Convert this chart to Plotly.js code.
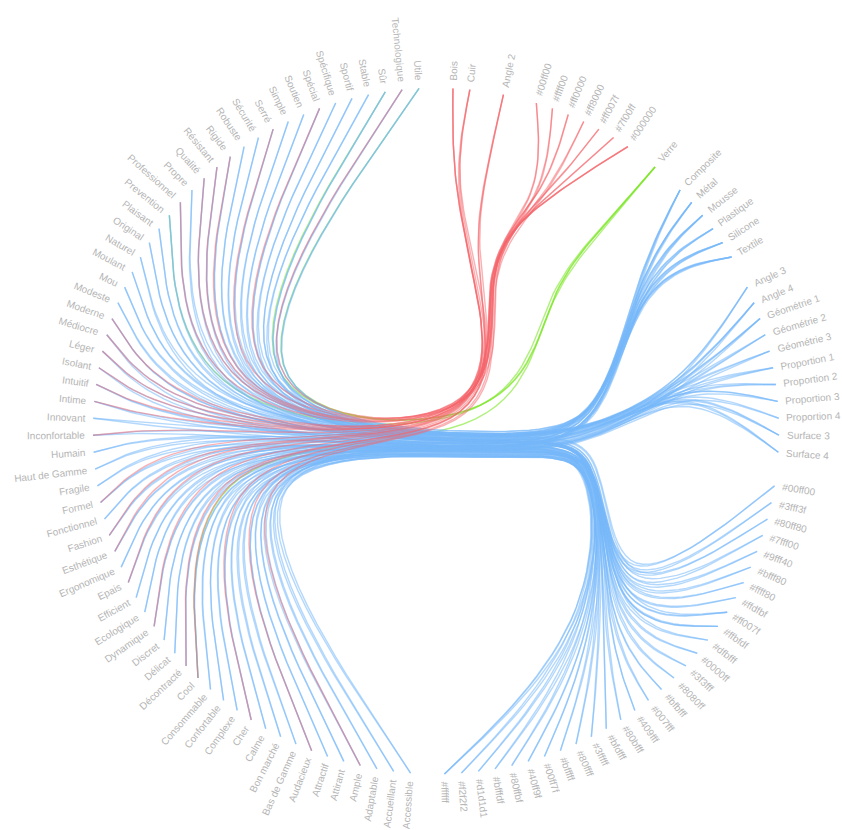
<!DOCTYPE html>
<html><head><meta charset="utf-8">
<script src="https://cdn.plot.ly/plotly-3.0.1.min.js"></script>
<style>body{margin:0;background:#fff}#chart{width:842px;height:830px}</style>
</head><body><div id="chart"></div>
<script>
// ---------- DATA ----------
const adjectives = ["Accessible","Accueillant","Adaptable","Ample","Attirant","Attractif","Audacieux","Bas de Gamme","Bon marché","Calme","Cher","Complexe","Confortable","Consommable","Cool","Décontracté","Délicat","Discret","Dynamique","Ecologique","Efficient","Epais","Ergonomique","Esthétique","Fashion","Fonctionnel","Formel","Fragile","Haut de Gamme","Humain","Inconfortable","Innovant","Intime","Intuitif","Isolant","Léger","Médiocre","Moderne","Modeste","Mou","Moulant","Naturel","Original","Plaisant","Prevention","Professionnel","Propre","Qualité","Résistant","Rigide","Robuste","Sécurité","Serré","Simple","Soutien","Spécial","Spécifique","Sportif","Stable","Sûr","Technologique","Utile"];
const matA = ["Bois","Cuir"];
const geoA = ["Angle 2"];
const colA = ["#00ff00","#ffff00","#ff0000","#ff8000","#ff007f","#7f00ff","#000000"];
const matB = ["Verre"];
const matC = ["Composite","Métal","Mousse","Plastique","Silicone","Textile"];
const geoC = ["Angle 3","Angle 4","Géométrie 1","Géométrie 2","Géométrie 3","Proportion 1","Proportion 2","Proportion 3","Proportion 4","Surface 3","Surface 4"];
const colC = ["#00ff00","#3fff3f","#80ff80","#7fff00","#9fff40","#bfff80","#ffff80","#ffdfbf","#ff007f","#ffbfdf","#dfbfff","#0000ff","#3f3fff","#8080ff","#bfbfff","#007fff","#409fff","#80bfff","#bfdfff","#3fffff","#80ffff","#bfffff","#00ff7f","#40ff9f","#80ffbf","#bfffdf","#d1d1d1","#f2f2f2","#ffffff"];

const linksMatA = [["Esthétique","Bois"],["Intime","Bois"],["Médiocre","Bois"],["Cher","Cuir"],["Formel","Cuir"],["Serré","Cuir"]];
const linksGeoA = [["Epais","Angle 2"],["Rigide","Angle 2"],["Moderne","Angle 2"]];
const linksColA = [["Dynamique","#00ff00"],["Fashion","#00ff00"],["Cool","#ffff00"],["Audacieux","#ffff00"],["Intuitif","#ff0000"],["Spécial","#ff0000"],["Décontracté","#ff8000"],["Ample","#ff8000"],["Inconfortable","#ff007f"],["Léger","#ff007f"],["Isolant","#7f00ff"],["Technologique","#7f00ff"],["Professionnel","#000000"],["Qualité","#000000"],["Résistant","#000000"]];
const linksMatB = [["Prevention","Verre"],["Sûr","Verre"],["Utile","Verre"],["Cool","Verre"]];
const linksMatC = [["Attractif","Composite"],["Ecologique","Composite"],["Innovant","Composite"],["Naturel","Composite"],["Technologique","Composite"],
["Cher","Métal"],["Haut de Gamme","Métal"],["Léger","Métal"],["Qualité","Métal"],["Utile","Métal"],
["Accueillant","Mousse"],["Confortable","Mousse"],["Epais","Mousse"],["Isolant","Mousse"],["Mou","Mousse"],
["Bas de Gamme","Plastique"],["Consommable","Plastique"],["Inconfortable","Plastique"],["Médiocre","Plastique"],
["Calme","Silicone"],["Délicat","Silicone"],["Fragile","Silicone"],["Plaisant","Silicone"],["Propre","Silicone"],
["Décontracté","Textile"],["Fashion","Textile"],["Intime","Textile"],["Moulant","Textile"],["Serré","Textile"]];
const linksGeoC = [["Dynamique","Angle 3"],["Prevention","Angle 3"],["Spécial","Angle 3"],
["Attirant","Angle 4"],["Formel","Angle 4"],["Rigide","Angle 4"],["Stable","Angle 4"],
["Adaptable","Géométrie 1"],["Fonctionnel","Géométrie 1"],["Professionnel","Géométrie 1"],["Utile","Géométrie 1"],
["Complexe","Géométrie 2"],["Efficient","Géométrie 2"],["Spécifique","Géométrie 2"],
["Audacieux","Géométrie 3"],["Intuitif","Géométrie 3"],["Robuste","Géométrie 3"],
["Accessible","Proportion 1"],["Esthétique","Proportion 1"],["Simple","Proportion 1"],
["Discret","Proportion 2"],["Humain","Proportion 2"],["Soutien","Proportion 2"],
["Ergonomique","Proportion 3"],["Sécurité","Proportion 3"],["Sûr","Proportion 3"],
["Bon marché","Proportion 4"],["Modeste","Proportion 4"],
["Ample","Surface 3"],["Moderne","Surface 3"],["Résistant","Surface 3"],
["Cool","Surface 4"],["Original","Surface 4"],["Sportif","Surface 4"]];
const linksColC = [["Moderne","#00ff00"],["Sûr","#00ff00"],["Dynamique","#3fff3f"],["Moulant","#3fff3f"],
["Intuitif","#80ff80"],["Sportif","#80ff80"],["Audacieux","#7fff00"],["Rigide","#7fff00"],
["Cool","#9fff40"],["Original","#9fff40"],["Décontracté","#bfff80"],["Mou","#bfff80"],
["Haut de Gamme","#ffff80"],["Plaisant","#ffff80"],["Confortable","#ffdfbf"],["Humain","#ffdfbf"],
["Attirant","#ff007f"],["Fashion","#ff007f"],["Spécial","#ff007f"],
["Attractif","#ffbfdf"],["Délicat","#ffbfdf"],["Intime","#ffbfdf"],
["Esthétique","#dfbfff"],["Robuste","#dfbfff"],["Fonctionnel","#0000ff"],["Prevention","#0000ff"],
["Cher","#3f3fff"],["Professionnel","#3f3fff"],["Epais","#8080ff"],["Résistant","#8080ff"],
["Discret","#bfbfff"],["Modeste","#bfbfff"],["Efficient","#007fff"],["Sécurité","#007fff"],
["Adaptable","#409fff"],["Qualité","#409fff"],["Ergonomique","#80bfff"],["Soutien","#80bfff"],
["Complexe","#bfdfff"],["Serré","#bfdfff"],["Innovant","#3fffff"],["Simple","#3fffff"],
["Calme","#80ffff"],["Léger","#80ffff"],["Fragile","#bfffff"],["Technologique","#bfffff"],
["Ecologique","#00ff7f"],["Spécifique","#00ff7f"],["Consommable","#40ff9f"],["Stable","#40ff9f"],
["Bon marché","#80ffbf"],["Naturel","#80ffbf"],["Accueillant","#bfffdf"],["Médiocre","#bfffdf"],
["Bas de Gamme","#d1d1d1"],["Inconfortable","#d1d1d1"],["Ample","#f2f2f2"],["Isolant","#f2f2f2"],
["Accessible","#ffffff"],["Formel","#ffffff"],["Propre","#ffffff"]];

// ---------- HIERARCHY (root -> top -> colour groups -> type groups -> leaves) ----------
const BETA = 0.96;
function grp(id, names){ return {id, children: names.map(n => ({id:n, name:n}))}; }
const root = {id:'root', children:[{id:'top', children:[
  {id:'A', children:[grp('matA',matA), grp('geoA',geoA), grp('colA',colA)]},
  {id:'B', children:[grp('matB',matB)]},
  {id:'C', children:[grp('matC',matC), grp('geoC',geoC), grp('colC',colC)]},
  grp('adj', adjectives)
]}]};

// d3.cluster-style layout
const leaves = [], byId = {};
(function setup(n, parent){
  n.parent = parent; byId[n.id] = byId[n.id] || n;
  if (n.children) n.children.forEach(c => setup(c, n)); else leaves.push(n);
})(root, null);
let xc = 0, prev = null;
leaves.forEach(l => { if (prev) xc += (prev.parent === l.parent ? 1 : 2); l.x = xc; prev = l; });
(function post(n){
  if (n.children){ n.children.forEach(post);
    n.x = n.children.reduce((s,c)=>s+c.x,0)/n.children.length;
    n.h = 1 + Math.max(...n.children.map(c=>c.h)); }
  else n.h = 0;
})(root);
const first = leaves[0], last = leaves[leaves.length-1];
const sepFL = first.parent === last.parent ? 1 : 2;
const X0 = first.x - sepFL/2, X1 = last.x + sepFL/2;
(function fin(n){
  n.angle = (n.x - X0)/(X1 - X0)*360;
  n.r = 1 - n.h/root.h;
  if (n.children) n.children.forEach(fin);
})(root);

function pol(angle, r){ const a = angle*Math.PI/180; return [r*Math.sin(a), r*Math.cos(a)]; }
function ancestors(n){ const a=[]; while(n){ a.push(n); n=n.parent; } return a; }
function pathNodes(s, t){
  const as = ancestors(s), at = ancestors(t);
  const lca = as.find(n => at.includes(n));
  const up = as.slice(0, as.indexOf(lca)+1), down = at.slice(0, at.indexOf(lca)).reverse();
  return up.concat(down);
}
function bundlePath(pts){
  const n = pts.length-1, p0 = pts[0], pn = pts[n];
  const bp = pts.map((p,i)=>{ const t=i/n; return [BETA*p[0]+(1-BETA)*(p0[0]+t*(pn[0]-p0[0])), BETA*p[1]+(1-BETA)*(p0[1]+t*(pn[1]-p0[1]))]; });
  const out = []; let x0,y0,x1,y1,k=0; const N=14;
  function bez(x,y){
    const s = out[out.length-1];
    const c1=[(2*x0+x1)/3,(2*y0+y1)/3], c2=[(x0+2*x1)/3,(y0+2*y1)/3], e=[(x0+4*x1+x)/6,(y0+4*y1+y)/6];
    for (let i=1;i<=N;i++){ const u=i/N, v=1-u;
      out.push([v*v*v*s[0]+3*v*v*u*c1[0]+3*v*u*u*c2[0]+u*u*u*e[0], v*v*v*s[1]+3*v*v*u*c1[1]+3*v*u*u*c2[1]+u*u*u*e[1]]); }
  }
  bp.forEach(([x,y])=>{
    if (k===0){ out.push([x,y]); k=1; }
    else if (k===1){ k=2; }
    else { if (k===2){ k=3; out.push([(5*x0+x1)/6,(5*y0+y1)/6]); } bez(x,y); }
    x0=x1; y0=y1; x1=x; y1=y;
  });
  if (k===3){ bez(x1,y1); out.push([x1,y1]); } else if (k===2){ out.push([x1,y1]); }
  return out;
}
function findLeaf(gid, name){ return byId[gid].children.find(c => c.name === name); }
function edgeTrace(adjName, gid, target, color){
  const s = findLeaf('adj', adjName), t = findLeaf(gid, target);
  const pts = pathNodes(s, t).map(n => pol(n.angle, n.r));
  const path = bundlePath(pts);
  return {type:'scatter', mode:'lines', x:path.map(p=>p[0]), y:path.map(p=>p[1]),
    line:{color, width:1.4}, hoverinfo:'skip', showlegend:false};
}
const BLUE='rgba(118,184,250,0.55)', RED='rgba(245,100,105,0.5)', GREEN='rgba(125,230,40,0.6)';
const traces = [];
linksMatB.forEach(l=>traces.push(edgeTrace(l[0],'matB',l[1],GREEN)));
linksMatC.forEach(l=>traces.push(edgeTrace(l[0],'matC',l[1],BLUE)));
linksGeoC.forEach(l=>traces.push(edgeTrace(l[0],'geoC',l[1],BLUE)));
linksColC.forEach(l=>traces.push(edgeTrace(l[0],'colC',l[1],BLUE)));
linksMatA.forEach(l=>traces.push(edgeTrace(l[0],'matA',l[1],RED)));
linksGeoA.forEach(l=>traces.push(edgeTrace(l[0],'geoA',l[1],RED)));
linksColA.forEach(l=>traces.push(edgeTrace(l[0],'colA',l[1],RED)));

// ---------- LABELS ----------
const R_PX = 343, CX = 436, CY = 431, W = 842, H = 830, FS = 10, GAP = 7;
const FONT = 'Liberation Sans, Arial, sans-serif';
const ctx = document.createElement('canvas').getContext('2d');
ctx.font = FS + 'px "Liberation Sans", Arial, sans-serif';
const annotations = leaves.map(l => {
  const w = ctx.measureText(l.name).width + 2;
  const rr = 1 + (GAP + w/2)/R_PX;
  const [x,y] = pol(l.angle, rr);
  const ta = l.angle < 180 ? l.angle - 90 : l.angle - 270;
  return {x, y, xref:'x', yref:'y', text:l.name, showarrow:false, textangle:ta,
    xanchor:'center', yanchor:'middle', font:{family:FONT, size:FS, color:'#b5b5b5'}};
});

Plotly.newPlot('chart', traces, {
  width:W, height:H, margin:{l:0,r:0,t:0,b:0,pad:0},
  paper_bgcolor:'#fff', plot_bgcolor:'#fff', showlegend:false,
  xaxis:{range:[-CX/R_PX,(W-CX)/R_PX], visible:false, fixedrange:true},
  yaxis:{range:[-(H-CY)/R_PX, CY/R_PX], visible:false, fixedrange:true},
  annotations, hovermode:false
}, {displayModeBar:false, staticPlot:true});
</script></body></html>
